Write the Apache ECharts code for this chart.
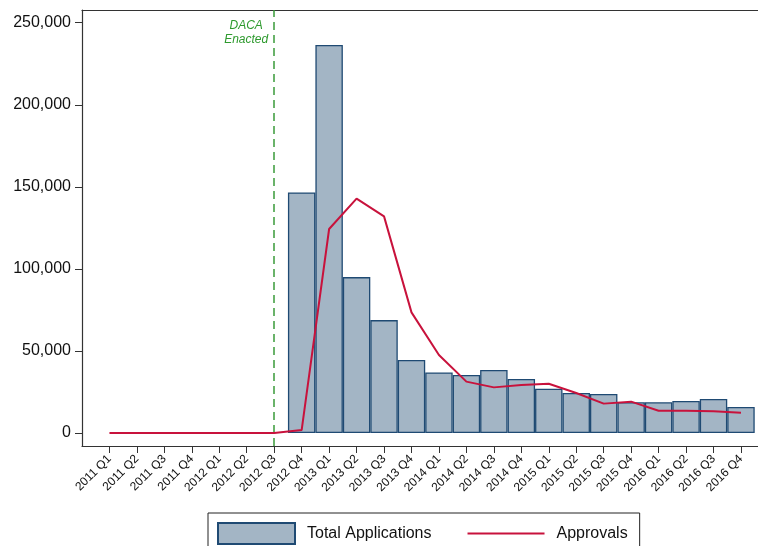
<!DOCTYPE html>
<html>
<head>
<meta charset="utf-8">
<script src="https://cdn.jsdelivr.net/npm/echarts@6/dist/echarts.min.js"></script>
<style>
html,body{margin:0;padding:0;background:#fff;}
#c{width:758px;height:546px;}
</style>
</head>
<body>
<div id="c"></div>
<script>
const quarters = ['2011 Q1','2011 Q2','2011 Q3','2011 Q4','2012 Q1','2012 Q2','2012 Q3','2012 Q4',
  '2013 Q1','2013 Q2','2013 Q3','2013 Q4','2014 Q1','2014 Q2','2014 Q3','2014 Q4',
  '2015 Q1','2015 Q2','2015 Q3','2015 Q4','2016 Q1','2016 Q2','2016 Q3','2016 Q4'];
const totalApplications = [null,null,null,null,null,null,null,146600,
  236400,95000,68800,44500,36900,35300,38400,32900,
  27000,24400,23800,18700,18700,19500,20700,15800];
const approvals = [0,0,0,0,0,0,0,1800,
  124300,142800,132000,73500,47500,31300,27800,29200,
  30000,24400,17900,19100,13600,13600,13200,12400];
const yTicks = [0,50000,100000,150000,200000,250000];
const dacaIndex = 6;
const dacaLabel = 'DACA\nEnacted';

const idx = quarters.map((q,i)=>i);
const font = '"Liberation Sans", Arial, sans-serif';
const chart = echarts.init(document.getElementById('c'), null, {renderer:'canvas'});
chart.setOption({
  animation:false,
  backgroundColor:'#fff',
  textStyle:{fontFamily:font},
  grid:{left:82,right:0,top:10,bottom:100,containLabel:false},
  legend:{
    left:208, top:513, orient:'horizontal',
    itemWidth:77, itemHeight:21, itemGap:35,
    borderColor:'#222', borderWidth:1, padding:[9,12,9,9],
    textStyle:{fontSize:16,color:'#111',fontFamily:font,padding:[0,0,0,7]},
    data:[{name:'Total Applications',icon:'rect'},
          {name:'Approvals',itemStyle:{opacity:0}}]
  },
  xAxis:[{
    type:'value', min:-1, max:23.62,
    axisLine:{show:true,onZero:false,lineStyle:{color:'#333',width:1.2}},
    axisTick:{show:true,length:7,customValues:idx,lineStyle:{color:'#333'}},
    axisLabel:{show:true,customValues:idx,rotate:45,fontSize:12,color:'#111',margin:11,
      fontFamily:font,formatter:v=>quarters[Math.round(v)] || ''},
    splitLine:{show:false}
  },{
    type:'value', position:'top', min:-1, max:23.62,
    axisLine:{show:true,onZero:false,lineStyle:{color:'#333',width:1.2}},
    axisTick:{show:false}, axisLabel:{show:false}, splitLine:{show:false}
  }],
  yAxis:{
    type:'value', min:-7920, max:257740,
    axisLine:{show:true,onZero:false,lineStyle:{color:'#333',width:1.2}},
    axisTick:{show:true,length:7,customValues:yTicks,lineStyle:{color:'#333'}},
    axisLabel:{customValues:yTicks,fontSize:16,color:'#111',margin:11,fontFamily:font,
      formatter:v=>v.toLocaleString('en-US')},
    splitLine:{show:false}
  },
  series:[{
    name:'Total Applications', type:'bar', xAxisIndex:0,
    barWidth:'100%',
    data: totalApplications.map((v,i)=>[i,v]),
    itemStyle:{color:'#a3b5c5',borderColor:'#1f4a73',borderWidth:1.3},
    emphasis:{disabled:true}
  },{
    name:'Approvals', type:'line', xAxisIndex:0,
    symbol:'none', showSymbol:false,
    data: approvals.map((v,i)=>[i,v]),
    lineStyle:{color:'#c8123c',width:2},
    itemStyle:{color:'#c8123c'},
    z:5,
    markLine:{
      silent:true, symbol:['none','none'],
      lineStyle:{color:'#3a9a3a',type:[8,5],width:1.5},
      label:{show:false},
      data:[{xAxis:dacaIndex}]
    },
    markPoint:{
      silent:true, symbolSize:0,
      data:[{coord:[dacaIndex,244000]}],
      label:{show:true,position:'inside',offset:[-28,0],formatter:dacaLabel,
        fontStyle:'italic',fontSize:12,lineHeight:13.5,color:'#2e9a2e',align:'center',verticalAlign:'middle',fontFamily:font}
    }
  }]
});
</script>
</body>
</html>
